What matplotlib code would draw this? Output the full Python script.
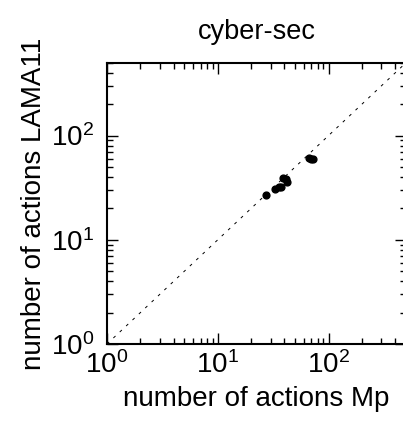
import numpy as np
import matplotlib.pyplot as plt

plt.rcParams['font.family'] = ['Liberation Sans', 'DejaVu Sans']
plt.rcParams['mathtext.fontset'] = 'custom'
plt.rcParams['mathtext.rm'] = 'Liberation Sans'
plt.rcParams['mathtext.it'] = 'Liberation Sans'

# number of actions per problem (Mp vs LAMA11)
mp_actions = [27, 33, 36, 37, 39, 42, 41, 67, 70, 72]
lama_actions = [27, 31, 32, 32, 39, 36, 38, 61, 60, 60]

fig = plt.figure(figsize=(4.03, 4.34), dpi=100)
ax = fig.add_axes([107 / 403, 1 - 344 / 434, 299 / 403, 281.3 / 434])

lim = [1, 500]
ax.plot(lim, lim, color='black', linestyle=(0, (3, 6)), linewidth=0.7)
ax.scatter(mp_actions, lama_actions, s=24, color='black', zorder=3)

ax.set_xscale('log')
ax.set_yscale('log')
ax.set_xlim(lim)
ax.set_ylim(lim)
ax.set_xticks([1, 10, 100])
ax.set_yticks([1, 10, 100])

ax.tick_params(which='both', direction='in', top=True, right=True, labelsize=20)
ax.tick_params(axis='x', pad=5)
ax.tick_params(axis='y', pad=9)
ax.tick_params(which='major', length=8, width=1)
ax.tick_params(which='minor', length=4, width=1)
for s in ax.spines.values():
    s.set_linewidth(1.5)

ax.set_title('cyber-sec', fontsize=19.5, pad=17)
ax.set_xlabel('number of actions Mp', fontsize=20, labelpad=5)
ax.set_ylabel('number of actions LAMA11', fontsize=20, labelpad=3)

fig.savefig('out.png', dpi=100)
